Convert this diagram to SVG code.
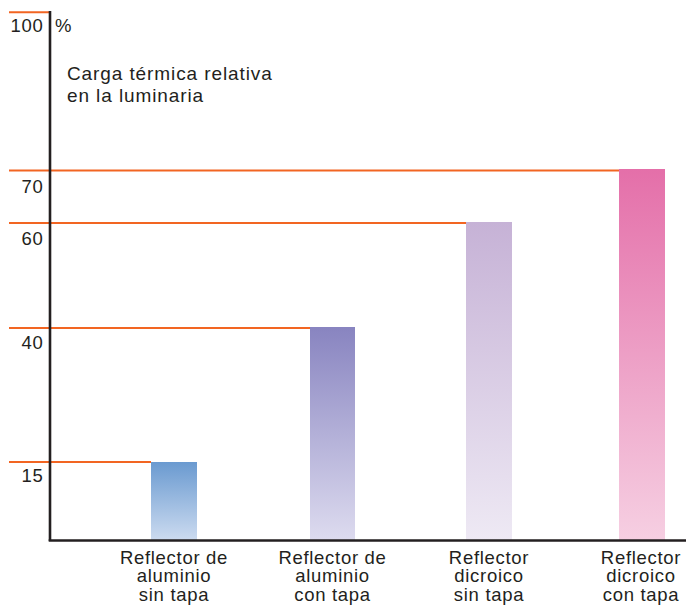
<svg xmlns="http://www.w3.org/2000/svg" width="686" height="607" viewBox="0 0 686 607">
<style>
.t{font-family:"Liberation Sans",Arial,sans-serif;fill:#231f20;font-size:18.5px;letter-spacing:0.7px}
.num{text-anchor:end}
.lbl{text-anchor:middle}
.ref{stroke:#f26522;stroke-width:2;fill:none}
.axis{stroke:#231f20;stroke-width:2.6;fill:none}
</style>
<defs>
<linearGradient id="g1" x1="0" y1="0" x2="0" y2="1"><stop offset="0" stop-color="#6a9ad0"/><stop offset="1" stop-color="#ccdbf0"/></linearGradient>
<linearGradient id="g2" x1="0" y1="0" x2="0" y2="1"><stop offset="0" stop-color="#8884c0"/><stop offset="1" stop-color="#dddbef"/></linearGradient>
<linearGradient id="g3" x1="0" y1="0" x2="0" y2="1"><stop offset="0" stop-color="#c6b2d6"/><stop offset="1" stop-color="#eee9f4"/></linearGradient>
<linearGradient id="g4" x1="0" y1="0" x2="0" y2="1"><stop offset="0" stop-color="#e46fa9"/><stop offset="1" stop-color="#f6cfe2"/></linearGradient>
</defs>
<rect width="686" height="607" fill="#fff"/>
<g id="bars">
<rect id="bar1" x="151" y="462" width="46" height="78" fill="url(#g1)"/>
<rect id="bar2" x="310" y="327" width="45" height="213" fill="url(#g2)"/>
<rect id="bar3" x="466" y="222" width="46" height="318" fill="url(#g3)"/>
<rect id="bar4" x="619" y="169" width="46" height="371" fill="url(#g4)"/>
</g>
<g id="reference-lines">
<line class="ref" x1="9" y1="12.3" x2="50" y2="12.3"/>
<line class="ref" x1="9" y1="170.5" x2="619" y2="170.5"/>
<line class="ref" x1="9" y1="223" x2="466" y2="223"/>
<line class="ref" x1="9" y1="328" x2="310" y2="328"/>
<line class="ref" x1="9" y1="462" x2="151" y2="462"/>
</g>
<g id="axes">
<line class="axis" x1="50" y1="11" x2="50" y2="541"/>
<line class="axis" x1="48.7" y1="540.5" x2="686" y2="540.5"/>
</g>
<g id="y-labels">
<text class="t num" x="43.5" y="31.5">100</text>
<text class="t" x="55" y="31.5">%</text>
<text class="t num" x="43.5" y="193">70</text>
<text class="t num" x="43.5" y="244.5">60</text>
<text class="t num" x="43.5" y="349">40</text>
<text class="t num" x="43.5" y="482">15</text>
</g>
<g id="title">
<text class="t" x="67" y="80" style="font-size:19px;letter-spacing:0.9px">Carga térmica relativa</text>
<text class="t" x="67" y="102" style="font-size:19px;letter-spacing:0.9px">en la luminaria</text>
</g>
<g id="x-labels">
<text class="t lbl" x="174" y="563.5"><tspan x="174">Reflector de</tspan><tspan x="174" y="582.2">aluminio</tspan><tspan x="174" y="600.7">sin tapa</tspan></text>
<text class="t lbl" x="332.5" y="563.5"><tspan x="332.5">Reflector de</tspan><tspan x="332.5" y="582.2">aluminio</tspan><tspan x="332.5" y="600.7">con tapa</tspan></text>
<text class="t lbl" x="489" y="563.5"><tspan x="489">Reflector</tspan><tspan x="489" y="582.2">dicroico</tspan><tspan x="489" y="600.7">sin tapa</tspan></text>
<text class="t lbl" x="641" y="563.5"><tspan x="641">Reflector</tspan><tspan x="641" y="582.2">dicroico</tspan><tspan x="641" y="600.7">con tapa</tspan></text>
</g>
</svg>
